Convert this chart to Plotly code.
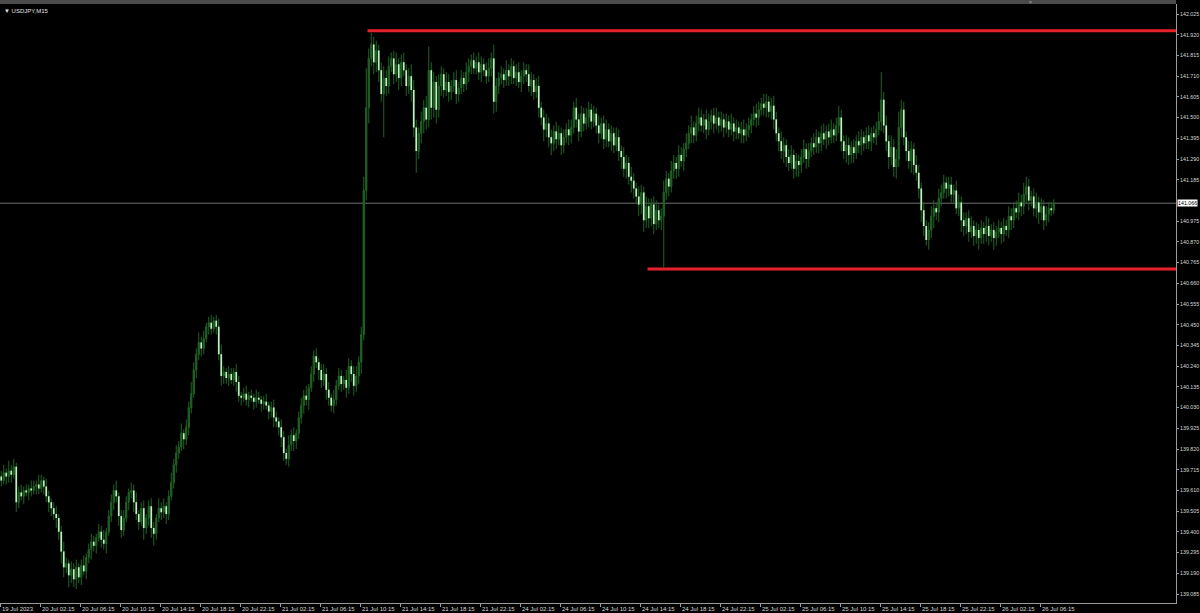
import plotly.graph_objects as go

symbol = "USDJPY,M15"
first_open = 139.68
closes = [
    139.66, 139.70, 139.68, 139.71, 139.69, 139.73, 139.55, 139.60, 139.58, 139.61,
    139.60, 139.62, 139.61, 139.63, 139.64, 139.62, 139.66, 139.63, 139.58, 139.55,
    139.52, 139.49, 139.47, 139.40, 139.30, 139.22, 139.24, 139.18, 139.21, 139.16,
    139.22, 139.17, 139.23, 139.20, 139.27, 139.31, 139.35, 139.33, 139.37, 139.40,
    139.36, 139.34, 139.40, 139.48, 139.55, 139.61, 139.58, 139.48, 139.41, 139.47,
    139.55, 139.60, 139.61, 139.55, 139.49, 139.45, 139.52, 139.42, 139.47, 139.53,
    139.42, 139.39, 139.47, 139.52, 139.50, 139.53, 139.49, 139.58, 139.65, 139.74,
    139.80, 139.83, 139.90, 139.87, 139.93, 140.03, 140.10, 140.22, 140.30, 140.36,
    140.33, 140.38, 140.44, 140.46, 140.43, 140.47, 140.44, 140.30, 140.19, 140.21,
    140.18, 140.20, 140.17, 140.21, 140.16, 140.09, 140.08, 140.10, 140.07, 140.09,
    140.08, 140.06, 140.08, 140.07, 140.05, 140.06, 140.04, 140.01, 140.03, 139.98,
    139.96, 139.93, 139.88, 139.80, 139.77, 139.84, 139.89, 139.86, 139.90, 139.98,
    140.04, 140.09, 140.07, 140.13, 140.20, 140.29, 140.26, 140.22, 140.17, 140.20,
    140.12, 140.08, 140.04, 140.07, 140.14, 140.19, 140.15, 140.17, 140.13, 140.24,
    140.20, 140.14, 140.19, 140.26, 140.40, 141.13, 141.55, 141.80, 141.87, 141.78,
    141.84, 141.74, 141.62, 141.70, 141.66, 141.76, 141.80, 141.72, 141.77, 141.70,
    141.78, 141.74, 141.66, 141.71, 141.64, 141.45, 141.33, 141.42, 141.48, 141.55,
    141.49, 141.74, 141.55, 141.68, 141.54, 141.66, 141.72, 141.64, 141.68, 141.63,
    141.66, 141.69, 141.62, 141.65, 141.70, 141.67, 141.73, 141.76, 141.79, 141.75,
    141.78, 141.73, 141.77, 141.74, 141.71, 141.75, 141.80, 141.58, 141.66, 141.70,
    141.72, 141.69, 141.74, 141.71, 141.76, 141.70, 141.73, 141.68, 141.71, 141.74,
    141.72, 141.66, 141.69, 141.63, 141.66, 141.55, 141.50, 141.44, 141.47, 141.40,
    141.37, 141.43, 141.39, 141.42, 141.36, 141.40, 141.44, 141.41, 141.45, 141.55,
    141.49, 141.43, 141.52, 141.47, 141.50, 141.54, 141.48, 141.52, 141.46, 141.42,
    141.47, 141.39, 141.44, 141.38, 141.42, 141.36, 141.40, 141.33, 141.30, 141.24,
    141.27, 141.20, 141.18, 141.14, 141.10, 141.06, 141.12, 140.98, 141.05, 140.99,
    141.06, 140.96, 141.03, 140.98, 141.00, 141.12, 141.19, 141.15, 141.23, 141.27,
    141.24, 141.31, 141.28, 141.34, 141.37, 141.42, 141.45, 141.41, 141.47, 141.50,
    141.46, 141.49, 141.44, 141.48, 141.51, 141.47, 141.50, 141.46, 141.49, 141.45,
    141.48, 141.44, 141.47, 141.43, 141.45, 141.42, 141.44, 141.41, 141.44, 141.46,
    141.49, 141.52, 141.50, 141.54, 141.57, 141.55, 141.58, 141.53, 141.56, 141.49,
    141.42, 141.38, 141.33, 141.36, 141.30, 141.27, 141.31, 141.24, 141.28, 141.26,
    141.30, 141.34, 141.29, 141.33, 141.37, 141.35, 141.40, 141.37, 141.42, 141.39,
    141.43, 141.40, 141.44, 141.41, 141.46, 141.50, 141.38, 141.33, 141.36, 141.31,
    141.35, 141.32, 141.38, 141.36, 141.40, 141.37, 141.41, 141.38, 141.42, 141.40,
    141.44, 141.48, 141.59, 141.46, 141.38, 141.30, 141.35, 141.25, 141.29, 141.45,
    141.54, 141.40, 141.33, 141.28, 141.34, 141.26, 141.22, 141.14, 141.03, 140.95,
    140.88, 140.93, 141.00, 141.04, 141.02, 141.09, 141.12, 141.17, 141.14, 141.16,
    141.11, 141.13, 141.04, 141.07, 140.98, 140.95, 140.99, 140.92, 140.95, 140.90,
    140.93, 140.89, 140.94, 140.91, 140.95, 140.90, 140.93, 140.89, 140.92, 140.94,
    140.91, 140.95, 140.93, 141.00, 140.98, 141.04, 141.02, 141.07, 141.05, 141.11,
    141.15, 141.08, 141.10, 141.04, 141.07, 141.02, 141.05, 140.98, 141.01, 141.04,
    141.03, 141.066,
]
# wick lengths in pips (0.01)
upper_wick = [
    3,4,2,5,3,4,2,3,4,2, 3,2,4,3,2,5,3,2,4,3, 2,3,4,2,3,5,3,2,4,3, 4,2,3,5,2,3,4,3,2,4,
    3,5,2,3,4,3,5,2,3,4, 3,2,4,3,5,2,3,4,2,3, 4,3,2,5,3,4,2,3,5,3, 4,3,5,2,4,3,6,4,3,5,
    3,4,2,3,4,2,3,4,5,3, 2,4,3,2,4,3,2,3,4,2, 3,2,4,3,2,3,4,2,3,4, 3,2,4,3,2,5,3,4,2,3,
    4,3,5,2,4,3,4,2,3,5, 3,4,2,5,3,4,3,2,5,4, 3,4,5,3,4,7,20,5,6,4, 5,3,4,6,4,5,3,4,6,3,
    4,5,3,4,6,5,4,3,5,4, 6,12,4,5,3,6,4,3,5,4, 3,4,5,3,4,3,5,4,3,4, 3,5,4,3,4,5,3,7,4,3,
    4,3,5,3,4,3,4,5,3,4, 3,5,4,3,4,5,3,4,5,3, 4,3,5,4,3,4,3,5,4,3, 5,3,4,3,5,4,3,4,3,5,
    3,4,5,3,4,3,5,4,3,5, 4,3,5,4,3,5,4,3,5,4, 3,4,5,3,4,6,4,3,5,4, 3,5,4,3,5,4,6,3,4,5,
    4,3,5,4,3,4,5,3,4,3, 4,3,5,3,4,3,4,5,3,4, 3,4,5,4,3,5,4,3,4,5, 4,3,5,4,3,4,5,3,4,3,
    4,5,3,4,3,5,4,3,4,5, 3,4,5,3,4,6,4,3,5,4, 3,4,3,5,4,3,4,5,3,4, 4,5,14,4,5,3,6,4,5,8,
    5,4,3,5,4,3,5,4,3,4, 3,4,5,4,3,5,4,4,3,4, 4,3,5,4,3,4,3,4,5,3, 4,3,4,3,5,4,3,4,3,4,
    3,4,3,5,4,3,4,5,4,6, 5,4,3,4,5,3,4,3,4,3, 3,2,
]
lower_wick = [
    3,2,4,3,4,2,5,3,2,4, 2,4,3,2,4,3,2,4,3,5, 4,3,5,4,6,5,3,6,4,4, 5,3,4,2,4,3,5,3,4,2,
    4,3,5,2,3,4,3,5,4,3, 2,4,3,5,3,4,2,6,3,4, 5,6,3,2,4,3,5,3,2,3, 4,3,2,5,3,4,3,2,4,3,
    4,3,2,4,3,2,4,3,5,4, 3,4,2,3,5,3,4,2,3,4, 2,4,3,2,4,3,2,4,3,5, 3,4,5,4,3,4,3,5,4,3,
    3,4,3,5,2,4,3,5,4,3, 5,4,3,4,3,2,4,3,5,3, 4,5,3,4,6,3,5,8,4,6, 5,6,4,22,5,4,3,5,4,6,
    4,3,5,4,6,5,11,4,5,6, 5,4,6,5,7,4,5,4,3,5, 4,3,5,4,3,4,3,5,4,3, 3,4,5,3,4,3,4,6,5,4,
    3,4,3,5,4,3,4,3,5,4, 4,3,5,4,3,5,4,6,4,5, 6,4,5,3,5,4,3,5,4,3, 4,5,3,4,3,5,4,3,4,5,
    3,5,4,3,5,4,3,5,6,4, 5,4,6,5,4,6,5,6,4,5, 4,5,3,4,5,26,4,5,3,4, 5,4,3,5,4,3,5,4,3,4,
    3,4,5,3,4,5,3,4,3,5, 3,4,3,5,4,3,5,4,3,4, 4,3,5,4,3,4,5,3,4,5, 4,5,4,6,5,4,3,5,4,6,
    4,3,5,4,3,4,3,5,4,3, 5,4,3,4,3,4,5,4,6,5, 4,5,3,4,5,4,3,4,5,3, 4,3,5,4,5,6,4,5,6,4,
    5,4,5,4,6,5,4,5,6,5, 3,5,4,6,4,5,4,3,5,4, 4,5,3,4,6,5,4,5,3,5, 4,6,3,5,4,5,3,6,4,3,
    5,4,3,4,5,4,3,4,5,4, 4,5,3,4,5,6,4,5,3,4, 3,2,
]

time_labels = ["19 Jul 2023", "20 Jul 02:15", "20 Jul 06:15", "20 Jul 10:15", "20 Jul 14:15",
               "20 Jul 18:15", "20 Jul 22:15", "21 Jul 02:15", "21 Jul 06:15", "21 Jul 10:15",
               "21 Jul 14:15", "21 Jul 18:15", "21 Jul 22:15", "24 Jul 02:15", "24 Jul 06:15",
               "24 Jul 10:15", "24 Jul 14:15", "24 Jul 18:15", "24 Jul 22:15", "25 Jul 02:15",
               "25 Jul 06:15", "25 Jul 10:15", "25 Jul 14:15", "25 Jul 18:15", "25 Jul 22:15",
               "26 Jul 02:15", "26 Jul 06:15"]
bars_per_label = 16

price_ticks = [142.025, 141.920, 141.815, 141.710, 141.605, 141.500, 141.395, 141.290,
               141.185, 140.975, 140.870, 140.765, 140.660, 140.555, 140.450, 140.345,
               140.240, 140.135, 140.030, 139.925, 139.820, 139.715, 139.610, 139.505,
               139.400, 139.295, 139.190, 139.085]

resistance = 141.94
resistance_start_bar = 147
support = 140.733
support_start_bar = 259
current_price = 141.066

n = len(closes)
x = list(range(n))
opens = [first_open] + closes[:-1]
highs = [max(o, c) + u / 100 for o, c, u in zip(opens, closes, upper_wick)]
lows = [min(o, c) - d / 100 for o, c, d in zip(opens, closes, lower_wick)]

# bear candle bodies drawn as short light segments on top of the candles
bear_x, bear_y = [], []
for i, (o, c) in enumerate(zip(opens, closes)):
    if c < o:
        bear_x += [i, i, None]
        bear_y += [o, c, None]

FONT = "Liberation Sans"
GRAY = "#9a9a9a"
XMAX = 469.9

fig = go.Figure()
fig.add_trace(go.Candlestick(
    x=x, open=opens, high=highs, low=lows, close=closes,
    increasing=dict(line=dict(color="#226326", width=1), fillcolor="#226326"),
    decreasing=dict(line=dict(color="#226326", width=1), fillcolor="#226326"),
    whiskerwidth=0, showlegend=False, hoverinfo="skip",
))
fig.add_trace(go.Scatter(
    x=bear_x, y=bear_y, mode="lines", line=dict(color="#d2f2d2", width=1.4),
    showlegend=False, hoverinfo="skip", connectgaps=False,
))

shapes = [
    dict(type="line", xref="paper", x0=0, x1=1, yref="y", y0=current_price, y1=current_price,
         line=dict(color="#6e6e6e", width=1), layer="below"),
    dict(type="line", xref="x", x0=resistance_start_bar - 0.5, x1=XMAX, yref="y",
         y0=resistance, y1=resistance, line=dict(color="#e8202c", width=3)),
    dict(type="line", xref="x", x0=support_start_bar - 0.5, x1=XMAX, yref="y",
         y0=support, y1=support, line=dict(color="#e8202c", width=3)),
    dict(type="rect", xref="paper", x0=-0.01, x1=1.0, yref="paper", y0=1.0, y1=1.008,
         fillcolor="#4a4a4a", line=dict(width=0)),
]

annotations = []
tick_positions = []
for k, lab in enumerate(time_labels):
    pos = k * bars_per_label - 0.5
    tick_positions.append(pos)
    annotations.append(dict(x=pos, y=0, xref="x", yref="paper", text=lab, showarrow=False,
                            xanchor="left", yanchor="top", yshift=-1, xshift=0,
                            font=dict(family=FONT, size=6, color="#d8d8d8")))
annotations.append(dict(x=0.002, y=1, xref="paper", yref="paper", text="▼ " + symbol,
                        showarrow=False, xanchor="left", yanchor="top", yshift=-2,
                        font=dict(family=FONT, size=6, color="#e0e0e0")))
annotations.append(dict(x=1, y=current_price, xref="paper", yref="y", text=f"{current_price:.3f}",
                        showarrow=False, xanchor="left", yanchor="middle", xshift=1,
                        bgcolor="#ffffff", borderpad=0,
                        font=dict(family=FONT, size=5.3, color="#000000")))
annotations.append(dict(x=0.876, y=1, xref="paper", yref="paper", text="▼",
                        showarrow=False, xanchor="center", yanchor="bottom", yshift=-3,
                        font=dict(family=FONT, size=5, color="#8a8a8a")))

fig.update_layout(
    width=1200, height=613,
    margin=dict(l=0, r=24, t=4, b=10),
    paper_bgcolor="#000000", plot_bgcolor="#000000",
    shapes=shapes, annotations=annotations,
    xaxis=dict(range=[-0.5, XMAX], showgrid=False, zeroline=False, rangeslider=dict(visible=False),
               showline=True, linecolor=GRAY, linewidth=1, ticks="outside", ticklen=3,
               tickcolor=GRAY, tickvals=tick_positions, showticklabels=False, fixedrange=True),
    yaxis=dict(range=[139.0394, 142.0757], side="right", showgrid=False, zeroline=False,
               showline=True, linecolor=GRAY, linewidth=1, ticks="outside", ticklen=2,
               tickcolor=GRAY, tickvals=price_ticks, ticktext=[f"{v:.3f}" for v in price_ticks],
               tickfont=dict(family=FONT, size=5.3, color="#d8d8d8"), fixedrange=True,
               automargin=False),
)

fig.write_html("out.html", config={"displayModeBar": False},
               post_script="document.body.style.margin='0';document.body.style.overflow='hidden';")
